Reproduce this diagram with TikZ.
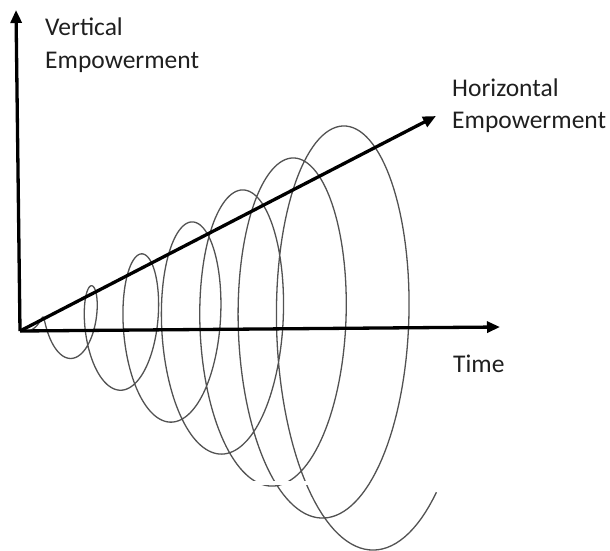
\documentclass[tikz,border=0pt]{standalone}
\usepackage{fontspec}
\setmainfont{Carlito}
\usetikzlibrary{arrows.meta}
\begin{document}
\begin{tikzpicture}[x=1pt,y=-1pt,
  axis/.style={line width=3.3pt,draw=black,-{Triangle[length=13pt,width=11pt]}},
  coil/.style={line width=1.3pt,draw=black!68},
  lbl/.style={inner sep=0pt,anchor=base west,font=\fontsize{25.5}{33}\selectfont,text=black!88,align=left}]
\useasboundingbox (0,0) rectangle (610,550);
% spiral
\draw[coil] plot[domain=-0.75:13.25,samples=900,variable=\t]
  ({42+25.3*\t-0.385*(12+16*\t)*sin(\t*180)},{330-(12+16*\t)*cos(\t*180)});
% white scratch in the original
\fill[white] (186,481) rectangle (312,485);
% axes
\coordinate (o) at (20,331);
\coordinate (vt) at (16,10);
\coordinate (ht) at (500,327);
\coordinate (dt) at (436,116);
\draw[axis] (o) -- (vt);
\draw[axis] (o) -- (ht);
\draw[axis] (o) -- (dt);
% labels
\node[lbl] (v1) at (45,35) {Vertical};
\node[lbl] (v2) at (45,68) {Empowerment};
\node[lbl] (h1) at (452,96) {Horizontal};
\node[lbl] (h2) at (452,128) {Empowerment};
\node[lbl] (tm) at (453,372) {Time};
\end{tikzpicture}
\end{document}
